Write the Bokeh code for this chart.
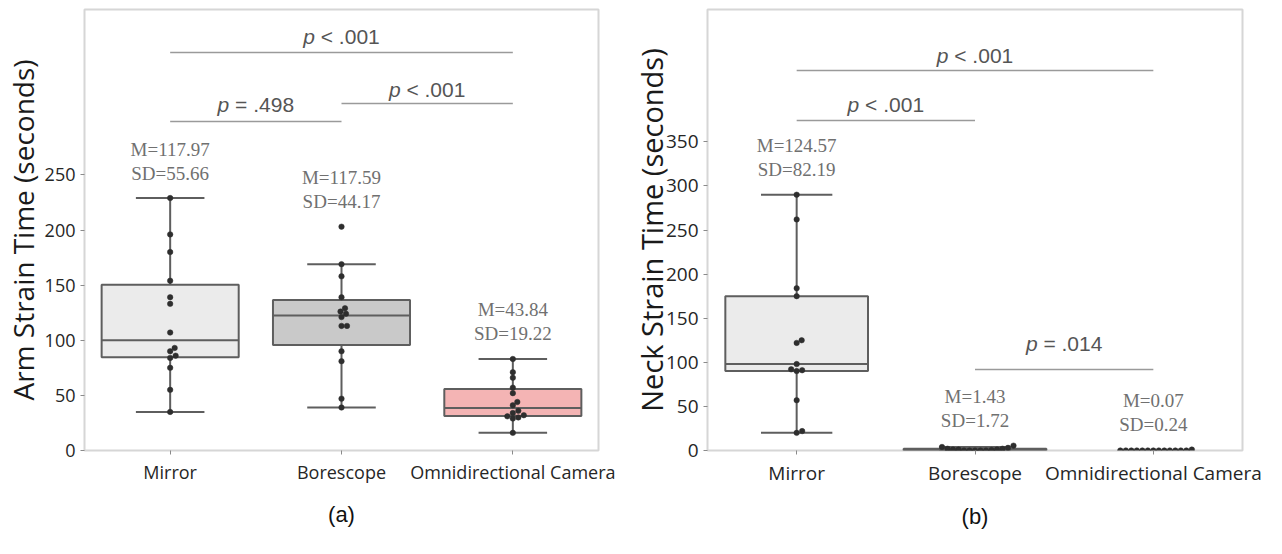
import numpy as np
from bokeh.plotting import figure
from bokeh.models import Label, FixedTicker, Range1d, Title
from bokeh.layouts import row
from bokeh.embed import file_html
from bokeh.resources import INLINE

# ---------------- data ----------------
categories = ["Mirror", "Borescope", "Omnidirectional Camera"]

arm_mirror = [229, 196, 180, 154, 139, 133, 107, 93, 90, 86, 84, 75, 55, 35]
arm_borescope = [203, 169, 158, 139, 129, 126, 124, 121, 113, 113, 90, 81, 47, 39]
arm_omni = [83, 71, 66, 57, 52, 44, 41, 36, 34, 32, 31, 30, 29, 16]

neck_mirror = [290, 262, 184, 175, 125, 122, 98, 92, 91, 90, 57, 22, 20]
neck_borescope = [5.5, 4, 3, 2, 2, 1, 1, 1, 0.5, 0, 0, 0, 0, 0]
neck_omni = [1, 0, 0, 0, 0, 0, 0, 0, 0, 0, 0, 0, 0, 0]

arm_mean_text = ["M=117.97", "M=117.59", "M=43.84"]
arm_sd_text = ["SD=55.66", "SD=44.17", "SD=19.22"]
neck_mean_text = ["M=124.57", "M=1.43", "M=0.07"]
neck_sd_text = ["SD=82.19", "SD=1.72", "SD=0.24"]

arm_pairs = [(0, 2), (0, 1), (1, 2)]
arm_p = ["< .001", "= .498", "< .001"]
neck_pairs = [(0, 2), (0, 1), (1, 2)]
neck_p = ["< .001", "< .001", "= .014"]

arm_yticks = [0, 50, 100, 150, 200, 250]
neck_yticks = [0, 50, 100, 150, 200, 250, 300, 350]

# ---------------- layout / style ----------------
FIG_H = 554
BORDER_TOP = 9
FRAME_H = 441
BORDER_BOTTOM = FIG_H - BORDER_TOP - FRAME_H

BOX_LINE = "#5e5e5e"
POINT_COLOR = "#2e2e2e"
P_COLOR = "#555555"
BRACKET_COLOR = "#9a9a9a"
STAT_COLOR = "#707070"
OUTLINE = "#d6d6d6"


def swarm_offsets(vals, xpx, ypx, d=5.5):
    ys = np.asarray(vals, float) * ypx
    order = np.argsort(ys)
    placed = []
    offs = np.zeros(len(ys))
    cands = [0.0]
    for k in range(1, 200):
        cands += [k * 0.5, -k * 0.5]
    for i in order:
        y = ys[i]
        for c in cands:
            if all((c - px) ** 2 + (y - py) ** 2 >= d * d for px, py in placed):
                offs[i] = c
                placed.append((c, y))
                break
    return offs / xpx


def make_panel(groups, fills, ymax, yticks, width, bl, br, ylabel, ylab_standoff,
               mean_text, sd_text, pairs, ptexts, bracket_px, text_gap, caption,
               cap_offset, tick_size, ylab_size):
    frame_w = width - bl - br
    xpx = frame_w / 3.0
    ypx = FRAME_H / ymax
    p = figure(width=width, height=FIG_H, output_backend="svg", toolbar_location=None,
               x_range=Range1d(-0.5, 2.5), y_range=Range1d(0, ymax),
               min_border_left=bl, min_border_right=br, min_border_top=BORDER_TOP,
               min_border_bottom=BORDER_BOTTOM)
    p.background_fill_color = "white"
    p.border_fill_color = "white"
    p.outline_line_color = OUTLINE
    p.outline_line_width = 2
    p.xgrid.visible = False
    p.ygrid.visible = False
    for ax in (p.xaxis, p.yaxis):
        ax.axis_line_color = None
        ax.major_tick_line_color = "#8a8a8a"
        ax.major_tick_out = 4
        ax.major_tick_in = 0
        ax.minor_tick_line_color = None
        ax.major_label_text_font = "Open Sans"
        ax.major_label_text_font_size = tick_size
        ax.major_label_text_color = "#262626"
        ax.major_label_standoff = 5
    p.xaxis.ticker = FixedTicker(ticks=[0, 1, 2])
    p.xaxis.major_label_overrides = {i: c for i, c in enumerate(categories)}
    p.yaxis.ticker = FixedTicker(ticks=yticks)
    p.yaxis.axis_label = ylabel
    p.yaxis.axis_label_text_font = "Open Sans"
    p.yaxis.axis_label_text_font_size = ylab_size
    p.yaxis.axis_label_text_font_style = "normal"
    p.yaxis.axis_label_text_color = "#1a1a1a"
    p.yaxis.axis_label_standoff = ylab_standoff

    for i, vals in enumerate(groups):
        v = np.asarray(vals, float)
        q1, med, q3 = np.percentile(v, [25, 50, 75])
        iqr = q3 - q1
        hi = v[v <= q3 + 1.5 * iqr].max()
        lo = v[v >= q1 - 1.5 * iqr].min()
        if iqr > 0:
            p.segment(x0=[i, i], y0=[q3, q1], x1=[i, i], y1=[hi, lo],
                      line_color=BOX_LINE, line_width=2)
            p.segment(x0=[i - 0.2, i - 0.2], y0=[hi, lo], x1=[i + 0.2, i + 0.2], y1=[hi, lo],
                      line_color=BOX_LINE, line_width=2)
            p.quad(left=[i - 0.4], right=[i + 0.4], bottom=[q1], top=[q3],
                   fill_color=fills[i], line_color=BOX_LINE, line_width=2)
            p.segment(x0=[i - 0.4], y0=[med], x1=[i + 0.4], y1=[med],
                      line_color=BOX_LINE, line_width=2)
        offs = swarm_offsets(v, xpx, ypx)
        p.scatter(x=i + offs, y=v, size=5.5, fill_color=POINT_COLOR, line_color=POINT_COLOR,
                  line_width=0.5)
        top = v.max()
        p.add_layout(Label(x=i, y=top + 25 / ypx, text=sd_text[i], text_align="center",
                           text_baseline="middle", text_font="Liberation Serif",
                           text_font_size="19px", text_color=STAT_COLOR))
        p.add_layout(Label(x=i, y=top + 49 / ypx, text=mean_text[i], text_align="center",
                           text_baseline="middle", text_font="Liberation Serif",
                           text_font_size="19px", text_color=STAT_COLOR))

    # significance brackets: italic "p" followed by the rest of the text
    fs = 21
    pw = 0.556 * fs
    sw = 0.278 * fs
    rw = 2.808 * fs
    for (a, b), t, by, gap in zip(pairs, ptexts, bracket_px, text_gap):
        yv = (FRAME_H + BORDER_TOP - by) / ypx
        p.segment(x0=[a], y0=[yv], x1=[b], y1=[yv], line_color=BRACKET_COLOR, line_width=1.5)
        xc = (a + b) / 2.0
        ty = yv + gap / ypx
        left_edge = -(pw + sw + rw) / 2.0
        p.add_layout(Label(x=xc, y=ty, x_offset=left_edge + pw, text="p", text_align="right",
                           text_baseline="middle", text_font="Liberation Sans",
                           text_font_style="italic", text_font_size=f"{fs}px",
                           text_color=P_COLOR))
        p.add_layout(Label(x=xc, y=ty, x_offset=left_edge + pw + sw, text=t,
                           text_align="left", text_baseline="middle",
                           text_font="Liberation Sans", text_font_size=f"{fs}px",
                           text_color=P_COLOR))

    cap = Title(text=caption, align="center", offset=cap_offset, standoff=27,
                text_font="Liberation Sans", text_font_size="22px",
                text_font_style="normal", text_color="#111111")
    p.add_layout(cap, "below")
    return p


p1 = make_panel([arm_mirror, arm_borescope, arm_omni],
                ["#ebebeb", "#c9c9c9", "#f4b4b4"], 400, arm_yticks,
                620, 83, 22, "Arm Strain Time (seconds)", 0,
                arm_mean_text, arm_sd_text, arm_pairs, arm_p,
                [52, 121, 103], [16, 17, 14], "(a)", 12, "18px", "28px")

p2 = make_panel([neck_mirror, neck_borescope, neck_omni],
                ["#ebebeb", "#c9c9c9", "#c9c9c9"], 500, neck_yticks,
                662, 87, 40, "Neck Strain Time (seconds)", -8,
                neck_mean_text, neck_sd_text, neck_pairs, neck_p,
                [70, 120, 369], [15, 16, 26], "(b)", -4, "19px", "29px")

layout = row(p1, p2)
open("out.html", "w").write(file_html(layout, INLINE))
